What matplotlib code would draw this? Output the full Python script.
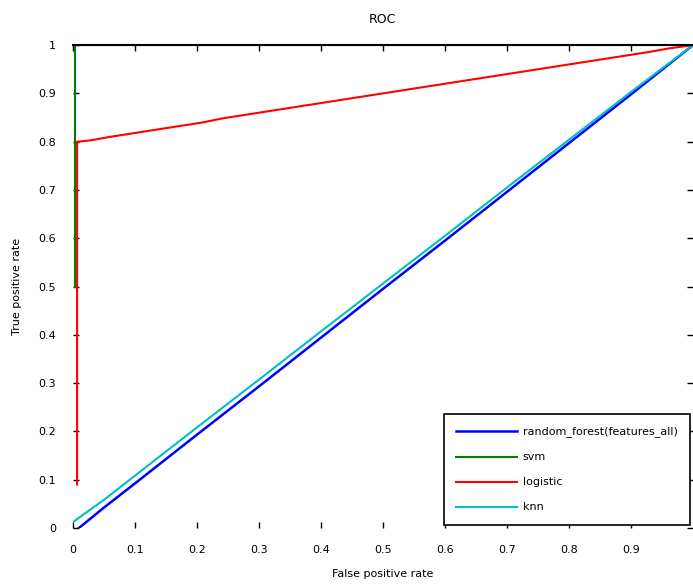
import matplotlib.pyplot as plt

# ROC curves
blue_fpr = [0.01, 0.05, 0.1, 0.2, 0.3, 0.4, 0.5, 0.6, 0.7, 0.8, 0.9, 1.0]
blue_tpr = [0.0, 0.042, 0.092, 0.193, 0.293, 0.394, 0.495, 0.595, 0.696, 0.797, 0.898, 1.0]

green_fpr = [0.004, 0.004, 1.0]
green_tpr = [0.50, 1.0, 1.0]

red_fpr = [0.007, 0.007, 0.03, 0.06, 0.09, 0.12, 0.15, 0.18, 0.21, 0.24, 0.27, 0.30,
           0.33, 0.36, 0.39, 0.42, 0.45, 0.48, 0.51, 0.54, 0.57, 0.60, 0.63,
           0.66, 0.69, 0.72, 0.75, 0.78, 0.81, 0.84, 0.87, 0.90, 0.93, 0.96, 1.0]
red_tpr = [0.09, 0.80, 0.803, 0.810, 0.816, 0.822, 0.828, 0.834, 0.840, 0.848, 0.854,
           0.860, 0.866, 0.872, 0.878, 0.884, 0.890, 0.896, 0.902, 0.908, 0.914,
           0.920, 0.926, 0.932, 0.938, 0.944, 0.950, 0.956, 0.962, 0.968, 0.974,
           0.980, 0.986, 0.993, 1.0]

cyan_fpr = [0.0, 0.05, 0.1, 0.2, 0.3, 0.4, 0.5, 0.6, 0.7, 0.8, 0.9, 1.0]
cyan_tpr = [0.012, 0.058, 0.108, 0.208, 0.307, 0.407, 0.506, 0.605, 0.705, 0.804, 0.903, 1.0]

labels = ["random_forest(features_all)", "svm", "logistic", "knn"]

x_ticks = [0, 0.1, 0.2, 0.3, 0.4, 0.5, 0.6, 0.7, 0.8, 0.9]
y_ticks = [0, 0.1, 0.2, 0.3, 0.4, 0.5, 0.6, 0.7, 0.8, 0.9, 1]

plt.rcParams["font.family"] = "DejaVu Sans"
fig = plt.figure(figsize=(6.93, 5.86), dpi=100)
ax = fig.add_axes([0.105, 0.099, 0.895, 0.824])

ax.plot(blue_fpr, blue_tpr, color="b", lw=1.8, label=labels[0])
ax.plot(green_fpr, green_tpr, color="g", lw=1.5, label=labels[1])
ax.plot(red_fpr, red_tpr, color="r", lw=1.5, label=labels[2])
ax.plot(cyan_fpr, cyan_tpr, color="c", lw=1.5, label=labels[3])

ax.set_xlim(0, 1)
ax.set_ylim(0, 1)
ax.set_xticks(x_ticks)
ax.set_yticks(y_ticks)
ax.set_xticklabels([("%g" % t) for t in x_ticks])
ax.set_yticklabels([("%g" % t) for t in y_ticks])
ax.tick_params(direction="in", length=4, labelsize=8, top=True, right=True,
               pad=12, width=1)

ax.spines["left"].set_visible(False)
ax.spines["bottom"].set_visible(False)
ax.spines["right"].set_visible(False)
ax.spines["top"].set_linewidth(1.5)

ax.set_title("ROC", fontsize=9, pad=16)
ax.set_xlabel("False positive rate", fontsize=8, labelpad=10)
ax.set_ylabel("True positive rate", fontsize=8, labelpad=12)

leg = ax.legend(loc="lower right", fontsize=8, fancybox=False, framealpha=1,
                edgecolor="black", handlelength=5.5, handletextpad=0.5,
                borderpad=1.1, labelspacing=1.35, borderaxespad=0.3)
leg.get_frame().set_linewidth(1.2)

plt.savefig("out.png", dpi=100)
